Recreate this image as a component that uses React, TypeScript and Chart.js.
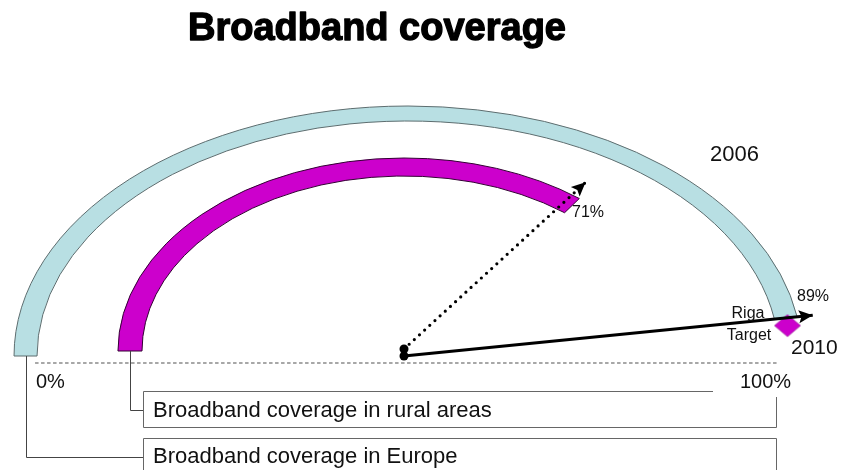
import React, { useEffect, useRef } from 'react';
import { Chart, registerables } from 'chart.js';

Chart.register(...registerables);

// ---------------- data ----------------
const categories = ['Broadband coverage in Europe', 'Broadband coverage in rural areas'];
// how far each arc is drawn along the half-gauge (0% = left, 100% = right)
const gaugePercent = [95, 71];
const arrowPercent = [95, 70];
const valueLabels = ['89%', '71%'];
const targetPercent = [96];
const targetLabels = ['2010'];
const yearLabels = ['2006'];
const scaleLabels = ['0%', '100%'];
const arrowLabels = ['Riga', 'Target'];
const chartTitle = 'Broadband coverage';

// ---------------- geometry / style ----------------
const X_MIN = -404 / 394;
const X_MAX = (841 - 404) / 394;
const Y_MIN = -114 / 250;
const Y_MAX = 356 / 250;

const RINGS = [
  { cx: 0.0102, cy: 0, rxO: 1, ryO: 1, rxI: 0.9416, ryI: 0.94, fill: '#b8dfe3', stroke: '#5d6d6f', tipR: 1.04 },
  { cx: 0, cy: 0.02, rxO: 0.726, ryO: 0.772, rxI: 0.665, ryI: 0.7, fill: '#cc00cc', stroke: '#330033', tipR: 1.08 },
];

const FONT = '"Liberation Sans", Arial, Helvetica, sans-serif';

function polar(ring: any, pct: number, r: number) {
  const a = Math.PI * (1 - pct / 100);
  return { x: ring.cx + r * ring.rxO * Math.cos(a), y: ring.cy + r * ring.ryO * Math.sin(a) };
}

const ringPlugin = {
  id: 'rings',
  beforeDatasetsDraw(chart: any) {
    const { ctx, scales } = chart;
    const xs = scales.x;
    const ys = scales.y;
    RINGS.forEach((ring, i) => {
      const cx = xs.getPixelForValue(ring.cx);
      const cy = ys.getPixelForValue(ring.cy);
      const rxO = Math.abs(xs.getPixelForValue(ring.cx + ring.rxO) - cx);
      const ryO = Math.abs(ys.getPixelForValue(ring.cy + ring.ryO) - cy);
      const rxI = Math.abs(xs.getPixelForValue(ring.cx + ring.rxI) - cx);
      const ryI = Math.abs(ys.getPixelForValue(ring.cy + ring.ryI) - cy);
      const end = Math.PI + Math.PI * (gaugePercent[i] / 100);
      ctx.save();
      ctx.beginPath();
      ctx.ellipse(cx, cy, rxO, ryO, 0, Math.PI, end, false);
      ctx.ellipse(cx, cy, rxI, ryI, 0, end, Math.PI, true);
      ctx.closePath();
      ctx.fillStyle = ring.fill;
      ctx.fill();
      ctx.lineWidth = 1;
      ctx.strokeStyle = ring.stroke;
      ctx.stroke();
      ctx.restore();
    });
  },
};

const arrowPlugin = {
  id: 'arrowheads',
  afterDatasetsDraw(chart: any) {
    const { ctx } = chart;
    [0, 1].forEach((di) => {
      const meta = chart.getDatasetMeta(di);
      const p0 = meta.data[0];
      const p1 = meta.data[1];
      const ang = Math.atan2(p1.y - p0.y, p1.x - p0.x);
      const len = 14;
      const hw = 6.5;
      ctx.save();
      ctx.translate(p1.x, p1.y);
      ctx.rotate(ang);
      ctx.beginPath();
      ctx.moveTo(0, 0);
      ctx.lineTo(-len, -hw);
      ctx.lineTo(-len * 0.8, 0);
      ctx.lineTo(-len, hw);
      ctx.closePath();
      ctx.fillStyle = '#000';
      ctx.fill();
      ctx.restore();
    });
  },
};

const textPlugin = {
  id: 'texts',
  afterDraw(chart: any) {
    const { ctx } = chart;
    ctx.save();
    // title
    ctx.fillStyle = '#000';
    ctx.strokeStyle = '#000';
    ctx.lineWidth = 1.3;
    ctx.lineJoin = 'round';
    ctx.font = `bold 38px ${FONT}`;
    ctx.textAlign = 'center';
    ctx.textBaseline = 'alphabetic';
    ctx.fillText(chartTitle, 377, 40);
    ctx.strokeText(chartTitle, 377, 40);

    // connectors from ring feet to callout boxes
    const xs = chart.scales.x;
    const ys = chart.scales.y;
    const footX = RINGS.map((r) => Math.round(xs.getPixelForValue(r.cx - (r.rxO + r.rxI) / 2)) + 0.5);
    const footY = RINGS.map((r) => ys.getPixelForValue(r.cy));
    const boxTop = [438.5, 391.5];
    const boxBottom = [490, 427.5];
    const boxLeft = 143.5;
    const boxRight = 776.5;

    ctx.lineWidth = 1;
    ctx.strokeStyle = '#444';
    RINGS.forEach((_, i) => {
      const midY = Math.round((boxTop[i] + Math.min(boxBottom[i], boxTop[i] + 36)) / 2) + 0.5;
      ctx.beginPath();
      ctx.moveTo(footX[i], footY[i]);
      ctx.lineTo(footX[i], midY);
      ctx.lineTo(boxLeft, midY);
      ctx.stroke();
    });

    ctx.strokeStyle = '#666';
    RINGS.forEach((_, i) => {
      ctx.beginPath();
      ctx.rect(boxLeft, boxTop[i], boxRight - boxLeft, boxBottom[i] - boxTop[i]);
      ctx.stroke();
    });

    // white patch behind "100%"
    ctx.fillStyle = '#fff';
    ctx.fillRect(713, 365, 90, 32);

    ctx.fillStyle = '#111';
    ctx.textAlign = 'left';
    ctx.font = `22px ${FONT}`;
    ctx.fillText(categories[1], 153, 417);
    ctx.fillText(categories[0], 153, 463);

    ctx.font = `20px ${FONT}`;
    ctx.fillText(scaleLabels[0], 36, 388);
    ctx.fillText(scaleLabels[1], 740, 388);

    ctx.font = `22px ${FONT}`;
    ctx.fillText(yearLabels[0], 710, 161);
    ctx.font = `21px ${FONT}`;
    ctx.fillText(targetLabels[0], 791, 354);

    ctx.font = `16px ${FONT}`;
    ctx.fillText(valueLabels[1], 572, 217);
    ctx.fillText(valueLabels[0], 797, 301);
    ctx.textAlign = 'center';
    ctx.fillText(arrowLabels[0], 748, 318);
    ctx.fillText(arrowLabels[1], 749, 340);
    ctx.restore();
  },
};

function makeDiamond() {
  const c = document.createElement('canvas');
  c.width = 28;
  c.height = 24;
  const g = c.getContext('2d')!;
  g.beginPath();
  g.moveTo(14, 1);
  g.lineTo(27, 12);
  g.lineTo(14, 23);
  g.lineTo(1, 12);
  g.closePath();
  g.fillStyle = '#cc00cc';
  g.fill();
  g.lineWidth = 0.6;
  g.strokeStyle = '#880088';
  g.stroke();
  return c;
}

export default function App() {
  const ref = useRef<HTMLCanvasElement | null>(null);

  useEffect(() => {
    if (!ref.current) return;
    const europeTip = polar(RINGS[0], arrowPercent[0], RINGS[0].tipR);
    const ruralTip = polar(RINGS[1], arrowPercent[1], RINGS[1].tipR);
    const midR = (RINGS[0].rxO + RINGS[0].rxI) / 2 / RINGS[0].rxO;
    const target = polar(RINGS[0], targetPercent[0], midR);
    const innerLeft = RINGS[0].cx - RINGS[0].rxI;
    const innerRight = RINGS[0].cx + RINGS[0].rxI;

    const chart = new Chart(ref.current, {
      type: 'scatter',
      data: {
        datasets: [
          {
            label: 'Riga target',
            data: [{ x: 0, y: 0 }, europeTip],
            showLine: true,
            borderColor: '#000',
            borderWidth: 3,
            pointRadius: [4.5, 0],
            pointBackgroundColor: '#000',
            pointBorderWidth: 0,
            clip: false,
          } as any,
          {
            label: 'Rural',
            data: [{ x: 0, y: 0.028 }, ruralTip],
            showLine: true,
            borderColor: '#000',
            borderWidth: 3.2,
            borderDash: [0, 7],
            borderCapStyle: 'round',
            pointRadius: [4.5, 0],
            pointBackgroundColor: '#000',
            pointBorderWidth: 0,
            clip: false,
          } as any,
          {
            label: 'Target 2010',
            data: [target],
            pointStyle: makeDiamond(),
            pointRadius: 13,
            clip: false,
          } as any,
          {
            label: 'Baseline',
            data: [
              { x: innerLeft - 0.005, y: -0.028 },
              { x: innerRight, y: -0.028 },
            ],
            showLine: true,
            borderColor: '#8a8a8a',
            borderWidth: 1.5,
            borderDash: [3.5, 2.5],
            pointRadius: 0,
            clip: false,
          } as any,
        ],
      },
      options: {
        animation: false,
        responsive: false,
        maintainAspectRatio: false,
        layout: { padding: 0, autoPadding: false },
        scales: {
          x: { type: 'linear', display: false, min: X_MIN, max: X_MAX },
          y: { type: 'linear', display: false, min: Y_MIN, max: Y_MAX },
        },
        plugins: {
          legend: { display: false },
          tooltip: { enabled: false },
          title: { display: false },
        },
      },
      plugins: [ringPlugin, arrowPlugin, textPlugin],
    });
    return () => chart.destroy();
  }, []);

  return (
    <div style={{ position: 'absolute', left: 0, top: 0, width: 841, height: 470, background: '#fff' }}>
      <canvas ref={ref} width={841} height={470} style={{ display: 'block' }} />
    </div>
  );
}
